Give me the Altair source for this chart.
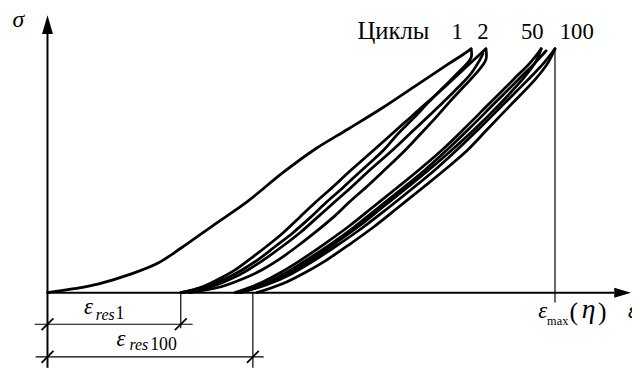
import altair as alt
import pandas as pd

# ---- hysteresis loops: strain (eps) and stress (sig), origin at the axis crossing ----
loop1_load_eps = [0, 27, 52, 85, 112, 135, 169, 202, 239, 272, 305, 339, 372, 405, 422, 429]
loop1_load_sig = [0, 4, 9, 19, 30, 45, 69, 92, 122, 146, 166, 187, 209, 231, 242, 247]
loop1_unload_eps = [429, 429, 415, 401, 386, 371, 355, 340, 316, 300, 283, 266, 249, 231, 214, 197, 180, 160, 135]
loop1_unload_sig = [247, 238, 222, 208, 193, 177, 161, 144, 122, 107, 92, 76, 61, 47, 34, 23, 14, 6, 0]
loop2_load_eps = [135, 157, 174, 190, 205, 222, 239, 255, 272, 289, 305, 330, 349, 367, 385, 402, 417, 432, 444]
loop2_load_sig = [0, 6, 14, 23, 34, 47, 61, 76, 92, 107, 122, 144, 161, 177, 193, 208, 222, 236, 247]
loop2_unload_eps = [444, 444, 434, 421, 407, 393, 378, 362, 339, 323, 306, 289, 271, 253, 235, 217, 198, 176, 144]
loop2_unload_sig = [247, 236, 222, 208, 193, 177, 161, 144, 122, 107, 92, 76, 61, 47, 34, 23, 14, 6, 0]
loop3_eps = [138, 166, 186, 203, 220, 238, 256, 273, 291, 308, 324, 349, 367, 384, 401, 416, 429, 438, 441]
loop3_sig = [0, 6, 14, 23, 34, 47, 61, 76, 92, 107, 122, 144, 161, 177, 193, 208, 222, 236, 242]
loop50_load_eps = [190, 214, 237, 255, 280, 305, 330, 355, 377, 399, 422, 447, 472, 489, 500]
loop50_load_sig = [0, 9, 21, 32, 49, 67, 87, 107, 125, 144, 166, 191, 216, 233, 247]
loop_mid_eps = [192, 217, 241, 259, 285, 310, 335, 360, 382, 404, 427, 452, 477, 494, 505]
loop_mid_sig = [0, 8, 20, 31, 48, 66, 86, 106, 124, 144, 166, 191, 216, 233, 245]
loop50_unload_eps = [500, 494, 481, 458, 433, 409, 387, 365, 340, 315, 290, 265, 247, 222, 196]
loop50_unload_sig = [247, 233, 216, 191, 166, 144, 125, 107, 87, 67, 49, 32, 21, 9, 0]
loop100_load_eps = [194, 222, 247, 266, 292, 318, 344, 369, 392, 414, 437, 462, 487, 503, 514]
loop100_load_sig = [0, 8, 19, 30, 47, 65, 85, 105, 124, 144, 166, 191, 216, 233, 247]
loop100_unload_eps = [514, 507, 494, 470, 446, 425, 403, 381, 356, 331, 306, 281, 262, 238, 212]
loop100_unload_sig = [247, 233, 216, 191, 166, 144, 125, 107, 87, 67, 49, 32, 21, 9, 0]

curves = {
    "c1_load": (loop1_load_eps, loop1_load_sig),
    "c1_unload": (loop1_unload_eps, loop1_unload_sig),
    "c2_load": (loop2_load_eps, loop2_load_sig),
    "c2_unload": (loop2_unload_eps, loop2_unload_sig),
    "c3": (loop3_eps, loop3_sig),
    "c50_load": (loop50_load_eps, loop50_load_sig),
    "cmid": (loop_mid_eps, loop_mid_sig),
    "c50_unload": (loop50_unload_eps, loop50_unload_sig),
    "c100_load": (loop100_load_eps, loop100_load_sig),
    "c100_unload": (loop100_unload_eps, loop100_unload_sig),
}
rows = []
for name, (ex, sy) in curves.items():
    for i, (a, b) in enumerate(zip(ex, sy)):
        rows.append({"curve": name, "i": i, "eps": a, "sig": b})
curve_df = pd.DataFrame(rows)

# ---- axes, dimension lines (x, y, x2, y2, width) ----
seg_x = [0, 0, 135, 208, 514, -13, -12, -6, 129, -6, 202]
seg_y = [-76, 0, 0, 0, 247, -32, -65, -38, -38, -71, -71]
seg_x2 = [0, 574, 135, 208, 514, 147, 219, 6, 141, 6, 214]
seg_y2 = [262, 0, -36, -76, -10, -32, -65, -26, -26, -59, -59]
seg_w = [2, 2, 1.2, 1.2, 1.2, 1.2, 1.2, 1.8, 1.8, 1.8, 1.8]
seg_df = pd.DataFrame({"x": seg_x, "y": seg_y, "x2": seg_x2, "y2": seg_y2, "w": seg_w})

# arrow heads
up_arrow_df = pd.DataFrame({"x": [0], "y": [271.5]})
right_arrow_df = pd.DataFrame({"x": [582.5], "y": [0]})

# ---- labels ----
txt_it_left = pd.DataFrame({
    "t": ["ε", "res", "ε", "res", "ε", "ε"],
    "x": [37, 49, 70, 83, 497, 588],
    "y": [-22, -28, -54, -58, -26, -26],
    "s": [23, 16, 23, 16, 23, 23],
})
txt_it_center = pd.DataFrame({
    "t": ["σ", "η"],
    "x": [-29.5, 548],
    "y": [269, -26],
    "s": [24, 28],
})
txt_n_left = pd.DataFrame({
    "t": ["Циклы", "max", "1", "100"],
    "x": [314, 506, 69, 104],
    "y": [257, -33, -27, -58],
    "s": [25, 12.5, 18, 18],
})
txt_n_center = pd.DataFrame({
    "t": ["1", "2", "50", "100", "(", ")"],
    "x": [415, 441, 491, 536, 533, 562],
    "y": [257, 257, 257, 257, -28, -28],
    "s": [23, 23, 23, 23, 26, 26],
})

X = alt.Scale(domain=[-40, 592], nice=False, zero=False)
Y = alt.Scale(domain=[-76, 286], nice=False, zero=False)
FONT = "Liberation Serif, Times New Roman, serif"

lines = alt.Chart(curve_df).mark_line(
    color="black", strokeWidth=2.8, interpolate="catmull-rom", strokeCap="round", strokeJoin="round"
).encode(
    x=alt.X("eps:Q", scale=X, axis=None),
    y=alt.Y("sig:Q", scale=Y, axis=None),
    detail="curve:N",
    order="i:Q",
)

segs = alt.Chart(seg_df).mark_rule(color="black").encode(
    x=alt.X("x:Q", scale=X, axis=None),
    y=alt.Y("y:Q", scale=Y, axis=None),
    x2="x2:Q",
    y2="y2:Q",
    strokeWidth=alt.StrokeWidth("w:Q", scale=None),
)

up_arrow = alt.Chart(up_arrow_df).mark_point(
    shape="M0,-1L0.58,1L-0.58,1Z", size=361, filled=True, color="black", opacity=1
).encode(x=alt.X("x:Q", scale=X, axis=None), y=alt.Y("y:Q", scale=Y, axis=None))

right_arrow = alt.Chart(right_arrow_df).mark_point(
    shape="M1,0L-1,0.6L-1,-0.6Z", size=289, filled=True, color="black", opacity=1
).encode(x=alt.X("x:Q", scale=X, axis=None), y=alt.Y("y:Q", scale=Y, axis=None))


def text_layer(df, style, align):
    return alt.Chart(df).mark_text(
        font=FONT, fontStyle=style, align=align, baseline="alphabetic", color="black"
    ).encode(
        x=alt.X("x:Q", scale=X, axis=None),
        y=alt.Y("y:Q", scale=Y, axis=None),
        text="t:N",
        size=alt.Size("s:Q", scale=None),
    )


chart = alt.layer(
    segs,
    lines,
    up_arrow,
    right_arrow,
    text_layer(txt_it_left, "italic", "left"),
    text_layer(txt_it_center, "italic", "center"),
    text_layer(txt_n_left, "normal", "left"),
    text_layer(txt_n_center, "normal", "center"),
).properties(
    width=632, height=362, padding=0, autosize=alt.AutoSizeParams(type="none"), background="white"
).configure_view(stroke=None)

chart.save("out.html", embed_options={"renderer": "svg", "actions": False})
